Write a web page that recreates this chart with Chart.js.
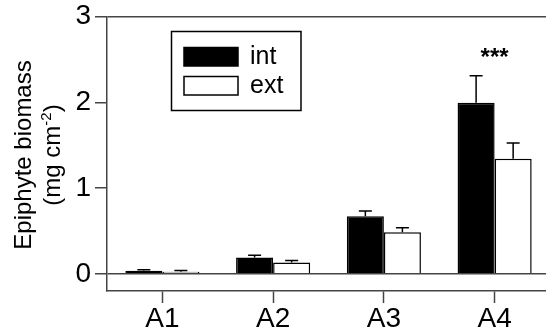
<!DOCTYPE html>
<html>
<head>
<meta charset="utf-8">
<script src="https://cdn.jsdelivr.net/npm/chart.js@4"></script>
<style>
  html, body { margin: 0; padding: 0; background: #fff; overflow: hidden; }
  #wrap { width: 560px; height: 328px; }
</style>
</head>
<body>
<div id="wrap"><canvas id="biomassChart"></canvas></div>
<script>
// data
const categories = ['A1', 'A2', 'A3', 'A4'];
const intValues = [0.035, 0.19, 0.67, 1.995];
const intErrors = [0.012, 0.028, 0.062, 0.315];
const extValues = [0.025, 0.133, 0.486, 1.342];
const extErrors = [0.014, 0.023, 0.051, 0.183];
const significance = ['', '', '', '***'];
const yTicks = [0, 1, 2, 3];
const yTitle = 'Epiphyte biomass';
const yUnit = ['(mg cm', '-2', ')'];

const FONT = 'Liberation Sans, Arial, Helvetica, sans-serif';
const LINE = '#444';

// upward error bars + significance stars
const errorBarPlugin = {
    id: 'errorBars',
    afterDatasetsDraw(chart) {
        const ctx = chart.ctx;
        const yScale = chart.scales.y;
        ctx.save();
        ctx.strokeStyle = '#000';
        ctx.lineWidth = 1.5;
        chart.data.datasets.forEach((ds, di) => {
            const meta = chart.getDatasetMeta(di);
            meta.data.forEach((bar, i) => {
                const top = yScale.getPixelForValue(ds.data[i] + ds.errors[i]);
                ctx.beginPath();
                ctx.moveTo(bar.x, bar.y);
                ctx.lineTo(bar.x, top);
                ctx.moveTo(bar.x - 6.5, top);
                ctx.lineTo(bar.x + 6.5, top);
                ctx.stroke();
            });
        });
        // stars above the tallest error bar of each category
        ctx.fillStyle = '#000';
        ctx.font = 'bold 24px ' + FONT;
        ctx.textAlign = 'center';
        ctx.textBaseline = 'middle';
        significance.forEach((s, i) => {
            if (!s) return;
            const top = Math.max(intValues[i] + intErrors[i], extValues[i] + extErrors[i]);
            const x = chart.scales.x.getPixelForValue(i);
            ctx.fillText(s, x, yScale.getPixelForValue(top + 0.2));
        });
        ctx.restore();
    }
};

// boxed legend inside the plot + rotated axis title
const legendBoxPlugin = {
    id: 'legendBox',
    afterDraw(chart) {
        const ctx = chart.ctx;
        ctx.save();
        ctx.lineWidth = 1.5;
        ctx.strokeStyle = '#000';
        ctx.strokeRect(171.5, 31.5, 129.5, 79);
        ctx.font = '25px ' + FONT;
        ctx.textBaseline = 'middle';
        chart.data.datasets.forEach((ds, i) => {
            const y = 47.5 + i * 29;
            ctx.fillStyle = ds.backgroundColor;
            ctx.fillRect(184, y, 54, 18.5);
            ctx.strokeRect(184, y, 54, 18.5);
            ctx.fillStyle = '#000';
            ctx.fillText(ds.label, 250, y + 9.5);
        });

        // y title
        ctx.translate(0, 155);
        ctx.rotate(-Math.PI / 2);
        ctx.textAlign = 'center';
        ctx.textBaseline = 'alphabetic';
        ctx.font = '24px ' + FONT;
        ctx.fillText(yTitle, 0, 31);
        const big = '24px ' + FONT, small = '15px ' + FONT;
        ctx.font = big;
        const w0 = ctx.measureText(yUnit[0]).width;
        const w2 = ctx.measureText(yUnit[2]).width;
        ctx.font = small;
        const w1 = ctx.measureText(yUnit[1]).width;
        let x = -(w0 + w1 + w2) / 2;
        const base = 60;
        ctx.textAlign = 'left';
        ctx.font = big;
        ctx.fillText(yUnit[0], x, base);
        x += w0;
        ctx.font = small;
        ctx.fillText(yUnit[1], x, base - 9);
        x += w1;
        ctx.font = big;
        ctx.fillText(yUnit[2], x, base);
        ctx.restore();
    }
};

const ctx = document.getElementById('biomassChart').getContext('2d');
new Chart(ctx, {
    type: 'bar',
    data: {
        labels: categories,
        datasets: [
            { label: 'int', data: intValues, errors: intErrors, backgroundColor: '#000', borderColor: '#000', borderWidth: 1.5 },
            { label: 'ext', data: extValues, errors: extErrors, backgroundColor: '#fff', borderColor: '#000', borderWidth: 1.5 }
        ]
    },
    options: {
        responsive: true,
        maintainAspectRatio: false,
        animation: false,
        layout: { padding: { top: 16.5, right: 10, left: 0, bottom: 0 } },
        datasets: { bar: { barPercentage: 1, categoryPercentage: 0.669, borderSkipped: 'bottom' } },
        plugins: { legend: { display: false }, tooltip: { enabled: false } },
        scales: {
            x: {
                grid: { display: true, drawOnChartArea: false, offset: false, tickLength: 12, tickColor: LINE, tickWidth: 1.5 },
                border: { display: true, color: LINE, width: 1.5 },
                ticks: { color: '#000', font: { family: FONT, size: 28, lineHeight: 1.0 }, padding: 2 },
                afterFit: (scale) => { scale.height = 37; }
            },
            y: {
                min: -0.2,
                max: 3,
                afterBuildTicks: (scale) => { scale.ticks = yTicks.map(v => ({ value: v })); },
                grid: {
                    color: (c) => (c.tick && (c.tick.value === 0 || c.tick.value === 3)) ? LINE : 'rgba(0,0,0,0)',
                    lineWidth: 1.5,
                    tickLength: 12,
                    tickColor: LINE,
                    tickWidth: 1.5
                },
                border: { display: true, color: LINE, width: 1.5 },
                ticks: { color: '#000', font: { family: FONT, size: 28 }, padding: 4, callback: (v) => String(v) },
                afterFit: (scale) => { scale.width = 107; scale.paddingTop = 0; scale.paddingBottom = 0; }
            }
        }
    },
    plugins: [errorBarPlugin, legendBoxPlugin]
});
</script>
</body>
</html>
